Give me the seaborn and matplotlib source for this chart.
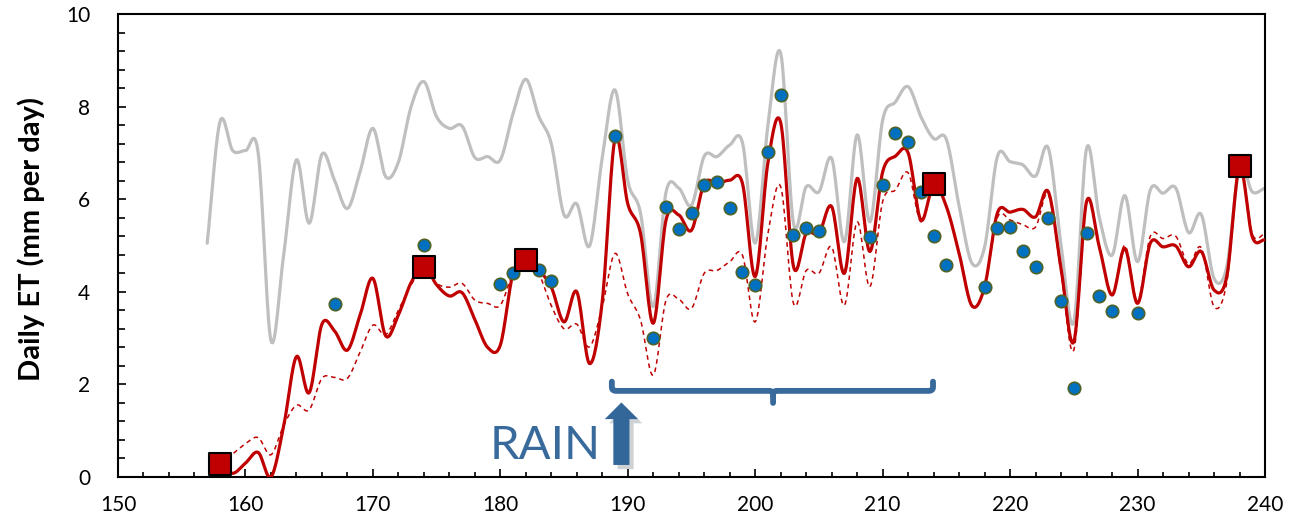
import numpy as np
import pandas as pd
import seaborn as sns
import matplotlib.pyplot as plt
import matplotlib.patheffects as pe
from matplotlib.path import Path
from matplotlib.patches import PathPatch
from matplotlib.ticker import MultipleLocator

# Data (day of year, ET in mm per day)
ref_days = list(range(157, 241))
ref_et = [5.05, 7.67, 7.05, 7.05, 7.0, 2.95, 4.8, 6.85, 5.48, 6.97,
          6.4, 5.8, 6.6, 7.53, 6.49, 6.8, 8.0, 8.54, 7.78, 7.53,
          7.58, 6.9, 6.92, 6.85, 7.85, 8.59, 7.8, 7.2, 5.66, 5.9,
          4.99, 6.9, 8.36, 6.4, 5.7, 3.68, 6.15, 6.24, 5.87, 6.93,
          6.92, 7.17, 7.22, 5.05, 7.6, 9.15, 5.48, 6.27, 6.16, 6.88,
          5.08, 7.39, 5.51, 7.71, 8.1, 8.43, 7.78, 7.31, 7.29, 5.85,
          4.62, 4.97, 6.92, 6.81, 6.74, 6.5, 7.1, 5.0, 3.35, 7.1,
          5.6, 4.79, 6.08, 4.65, 6.2, 6.13, 6.24, 5.28, 5.67, 4.29,
          4.54, 6.7, 6.16, 6.24]

model_days = list(range(158, 241))
model_et = [0.27, 0.08, 0.3, 0.53, 0.0, 1.1, 2.6, 1.82, 3.3, 3.15,
            2.74, 3.5, 4.29, 3.05, 3.5, 4.2, 4.55, 4.15, 3.91, 3.98,
            3.4, 2.8, 2.85, 4.4, 4.69, 4.47, 4.1, 3.35, 4.0, 2.45,
            3.8, 7.31, 5.9, 5.26, 3.32, 5.55, 5.66, 5.33, 6.34, 6.34,
            6.41, 6.34, 4.33, 6.8, 7.65, 4.55, 5.26, 5.26, 5.84, 4.4,
            6.45, 4.87, 6.59, 6.93, 7.0, 5.55, 6.32, 5.84, 4.83, 3.7,
            4.11, 5.7, 5.72, 5.78, 5.62, 6.16, 4.5, 2.92, 5.95, 4.97,
            3.93, 4.94, 3.75, 5.05, 4.97, 4.99, 4.54, 4.87, 4.04, 4.33,
            6.7, 5.19, 5.12]
model_et_alt = [0.3, 0.5, 0.72, 0.85, 0.48, 1.12, 1.55, 1.45, 2.13, 2.15,
                2.13, 2.7, 3.28, 3.07, 3.6, 4.15, 4.5, 4.18, 4.1, 4.18,
                3.82, 3.75, 3.71, 4.4, 4.65, 4.4, 3.7, 3.2, 3.3, 2.81,
                3.68, 4.83, 3.95, 3.39, 2.2, 3.82, 3.84, 3.64, 4.4, 4.46,
                4.65, 4.79, 3.35, 5.26, 6.27, 3.75, 4.46, 4.4, 4.97, 3.71,
                5.51, 4.11, 5.95, 6.2, 6.57, 5.51, 6.3, 5.84, 4.83, 3.7,
                4.11, 5.6, 5.55, 5.45, 5.4, 6.1, 4.4, 2.74, 5.95, 4.97,
                3.93, 5.0, 3.8, 5.2, 5.15, 5.2, 4.6, 4.95, 3.68, 4.2,
                6.7, 5.25, 5.25]

obs_days = [167, 174, 180, 181, 183, 184, 189, 192, 193, 194, 195, 196, 197,
            198, 199, 200, 201, 202, 203, 204, 205, 209, 210, 211, 212, 213,
            214, 215, 218, 219, 220, 221, 222, 223, 224, 225, 226, 227, 228,
            230]
obs_et = [3.74, 5.0, 4.17, 4.41, 4.47, 4.24, 7.36, 3.01, 5.83, 5.35, 5.71,
          6.31, 6.37, 5.82, 4.43, 4.14, 7.02, 8.24, 5.23, 5.38, 5.32, 5.19,
          6.31, 7.43, 7.23, 6.16, 5.21, 4.58, 4.11, 5.37, 5.39, 4.89, 4.53,
          5.6, 3.81, 1.93, 5.28, 3.91, 3.59, 3.54]

anchor_days = [158, 174, 182, 214, 238]
anchor_et = [0.27, 4.54, 4.69, 6.32, 6.71]

rain_day = 189.5
rain_label = "RAIN"


def smooth(x, y, n=16):
    # catmull-rom curve, same look as a spreadsheet "smoothed line"
    x = np.asarray(x, float)
    y = np.asarray(y, float)
    px = np.concatenate([[2 * x[0] - x[1]], x, [2 * x[-1] - x[-2]]])
    py = np.concatenate([[2 * y[0] - y[1]], y, [2 * y[-1] - y[-2]]])
    t = np.linspace(0, 1, n, endpoint=False)
    xs, ys = [], []
    for i in range(len(x) - 1):
        for p, out in ((px, xs), (py, ys)):
            p0, p1, p2, p3 = p[i], p[i + 1], p[i + 2], p[i + 3]
            out.append(0.5 * (2 * p1 + (p2 - p0) * t
                              + (2 * p0 - 5 * p1 + 4 * p2 - p3) * t ** 2
                              + (-p0 + 3 * p1 - 3 * p2 + p3) * t ** 3))
    xs.append([x[-1]])
    ys.append([y[-1]])
    return np.concatenate(xs), np.concatenate(ys)


sns.set_theme(style="white")
plt.rcParams['font.family'] = ['Lato', 'DejaVu Sans']

fig = plt.figure(figsize=(12.9, 5.22), dpi=100)
ax = fig.add_axes([118 / 1290, 45 / 522, 1147 / 1290, 463 / 522])

rx, ry = smooth(ref_days, ref_et)
sns.lineplot(x=rx, y=ry, ax=ax, color="#BFBFBF", lw=2.3, sort=False, estimator=None, zorder=2)

dx, dy = smooth(model_days, model_et_alt)
sns.lineplot(x=dx, y=dy, ax=ax, color="#C00000", lw=1.1, sort=False, estimator=None,
             zorder=3, linestyle=(0, (3, 2.5)))

mx, my = smooth(model_days, model_et)
sns.lineplot(x=mx, y=my, ax=ax, color="#C00000", lw=2.3, sort=False, estimator=None, zorder=3)

sns.scatterplot(x=obs_days, y=obs_et, ax=ax, s=80, color="#0070C0",
                edgecolor="#4F6228", linewidth=1.2, zorder=5)
sns.scatterplot(x=anchor_days, y=anchor_et, ax=ax, s=235, marker="s", color="#C00000",
                edgecolor="black", linewidth=1.5, zorder=6)

# rain arrow + label
blue = "#386A9C"
arr = ax.annotate("", xy=(rain_day, 1.67), xytext=(rain_day, 0.2),
                  arrowprops=dict(arrowstyle="simple,head_length=0.6,head_width=1.2,tail_width=0.58",
                                  mutation_scale=20, color="#336699", lw=0))
arr.arrow_patch.set_path_effects([pe.SimplePatchShadow(offset=(3, -3), alpha=0.2), pe.Normal()])
ax.text(187.9, 0.39, rain_label, color=blue, fontsize=34,
        ha="right", va="baseline", zorder=4)

# brace over the rain period
L, M, R = 188.75, 201.4, 213.95
yt, yh, yb = 2.06, 1.86, 1.6
verts = [(L, yt), (L, yh + 0.08), (L, yh), (L + 0.35, yh),
         (M - 0.3, yh), (M, yh), (M, yh - 0.08), (M, yb),
         (M, yh - 0.08), (M, yh), (M + 0.3, yh),
         (R - 0.35, yh), (R, yh), (R, yh + 0.08), (R, yt)]
codes = [Path.MOVETO, Path.LINETO, Path.CURVE3, Path.CURVE3,
         Path.LINETO, Path.CURVE3, Path.CURVE3, Path.LINETO,
         Path.MOVETO, Path.CURVE3, Path.CURVE3,
         Path.LINETO, Path.CURVE3, Path.CURVE3, Path.LINETO]
ax.add_patch(PathPatch(Path(verts, codes), fill=False, edgecolor=blue, lw=4.2,
                       capstyle="round", joinstyle="round", zorder=4))

ax.set_xlim(150, 240)
ax.set_ylim(0, 10)
ax.xaxis.set_major_locator(MultipleLocator(10))
ax.xaxis.set_minor_locator(MultipleLocator(2))
ax.yaxis.set_major_locator(MultipleLocator(2))
ax.yaxis.set_minor_locator(MultipleLocator(0.4))
ax.tick_params(which="both", direction="in", colors="black", width=1.2,
               bottom=True, left=True, top=False, right=False, labelsize=15)
ax.tick_params(axis="x", which="major", length=5.5, pad=13)
ax.tick_params(axis="x", which="minor", length=3.8)
ax.tick_params(axis="y", which="major", length=6, pad=20)
ax.tick_params(axis="y", which="minor", length=5)
for s in ax.spines.values():
    s.set_visible(True)
    s.set_color("black")
    s.set_linewidth(1.5)

ax.set_xlabel("")
ax.set_ylabel("Daily ET (mm per day)", fontsize=21, fontweight="bold", color="black")
ax.yaxis.set_label_coords(-0.064, 0.514)

plt.savefig("out.png", dpi=100)
